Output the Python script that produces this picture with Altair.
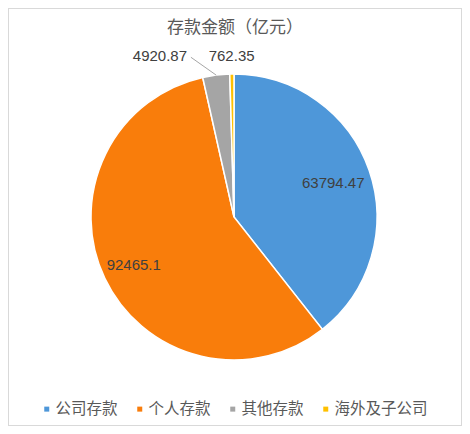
import altair as alt
import pandas as pd

title_text = "存款金额（亿元）"
categories = ["公司存款", "个人存款", "其他存款", "海外及子公司"]
values = [63794.47, 92465.1, 4920.87, 762.35]
labels = ["63794.47", "92465.1", "4920.87", "762.35"]
colors = ["#4E97D9", "#F97D0B", "#A5A5A5", "#FFC000"]

df = pd.DataFrame({"category": categories, "value": values, "label": labels,
                   "idx": list(range(len(categories)))})

CX, CY, R = 226, 169, 143
LABEL_FONT = "Liberation Sans"
CJK_FONT = "Noto Sans CJK SC"

base = alt.Chart(df).encode(
    theta=alt.Theta("value:Q", stack=True),
    order=alt.Order("idx:Q"),
)

pie = base.mark_arc(radius=R, stroke="white", strokeWidth=1.5).encode(
    x=alt.value(CX), y=alt.value(CY),
    color=alt.Color("category:N",
                    scale=alt.Scale(domain=categories, range=colors),
                    legend=alt.Legend(title=None, orient="none", direction="horizontal",
                                      legendX=31, legendY=353, padding=0,
                                      symbolType="square", symbolSize=25,
                                      symbolStrokeWidth=0, labelOffset=1,
                                      columnPadding=14, gridAlign="each",
                                      labelFont=CJK_FONT,
                                      labelFontSize=15.5, labelColor="#595959")),
)

def label_layer(cat, radius, dx=0, dy=0):
    return base.mark_text(radius=radius, dx=dx, dy=dy, font=LABEL_FONT, fontSize=15,
                          color="#404040").encode(
        x=alt.value(CX), y=alt.value(CY),
        text=alt.condition(alt.datum.category == cat, "label:N", alt.value("")),
    )

t1 = label_layer("公司存款", 105)
t2 = label_layer("个人存款", 111)
t3 = label_layer("其他存款", 161, dx=-54, dy=-1)
t4 = label_layer("海外及子公司", 161)

leader = alt.Chart(df).transform_joinaggregate(
    total="sum(value)"
).transform_window(
    cum="sum(value)", sort=[alt.SortField("idx")], frame=[None, 0]
).transform_calculate(
    mid="(datum.cum - datum.value/2) / datum.total * 2 * PI",
).transform_calculate(
    x1=f"{CX} + {R}*sin(datum.mid)",
    y1=f"{CY} - {R}*cos(datum.mid)",
    x2=f"{CX} + 161*sin(datum.mid) - 23",
    y2=f"{CY} - 161*cos(datum.mid)",
).transform_filter(
    alt.datum.category == "其他存款"
).mark_rule(color="#A6A6A6", strokeWidth=1).encode(
    x=alt.X("x1:Q", scale=None), y=alt.Y("y1:Q", scale=None),
    x2="x2:Q", y2="y2:Q",
)

frame = alt.Chart(df).mark_rect(fill=None, stroke="#D9D9D9", strokeWidth=1).encode(
    x=alt.value(0.5), x2=alt.value(453.5), y=alt.value(-39.5), y2=alt.value(377.5)
)

title = alt.Chart(pd.DataFrame({"t": [title_text]})).mark_text(
    font=CJK_FONT, fontSize=17, color="#595959", baseline="middle", align="center"
).encode(x=alt.value(227), y=alt.value(-20), text="t:N")

chart = alt.layer(frame, title, pie, leader, t1, t2, t3, t4).properties(
    width=452, height=338,
    padding={"top": 40, "left": 0, "right": 2, "bottom": 40},
    autosize="none",
).configure_view(stroke=None)

chart.save("out.html", embed_options={"renderer": "svg", "actions": False})
